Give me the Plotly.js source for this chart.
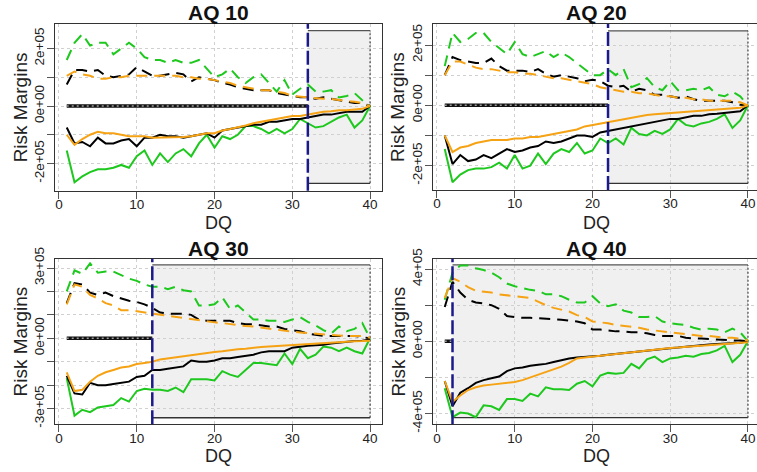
<!DOCTYPE html>
<html>
<head>
<meta charset="utf-8">
<script src="https://cdn.plot.ly/plotly-3.0.1.min.js"></script>
<style>html,body{margin:0;padding:0;background:#fff;}#chart{width:757px;height:472px;}</style>
</head>
<body>
<div id="chart"></div>
<script>
// ---------------- DATA ----------------
const DQ = [1,2,3,4,5,6,7,8,9,10,11,12,13,14,15,16,17,18,19,20,21,22,23,24,25,26,27,28,29,30,31,32,33,34,35,36,37,38,39,40];
const PANEL_TITLES = ['AQ 10','AQ 20','AQ 30','AQ 40'];
const X_TICKS = [0,10,20,30,40];
const X_TICK_LABELS = ['0','10','20','30','40'];
const CUTOFF = [32,22,12,2];
const SHADE_LOW = [-2.69e5,-2.59e5,-3.39e5,-4.23e5];
const SHADE_HIGH = [2.62e5,2.47e5,3.13e5,4.23e5];
const Y_TICKS = [
  [-2e5,-1e5,0,1e5,2e5],
  [-2e5,-1e5,0,1e5,2e5],
  [-3e5,-2e5,-1e5,0,1e5,2e5,3e5],
  [-4e5,-2e5,0,2e5,4e5]
];
const Y_TICK_LABELS = [
  ['-2e+05','','0e+00','','2e+05'],
  ['-2e+05','','0e+00','','2e+05'],
  ['-3e+05','','','0e+00','','','3e+05'],
  ['-4e+05','','0e+00','','4e+05']
];

// AQ 10
const aq10_green_up  = [1.6e5,2.2e5,2.5e5,2.1e5,2.2e5,2.2e5,1.8e5,2.0e5,2.2e5,2.0e5,1.7e5,1.6e5,1.6e5,1.5e5,1.6e5,1.5e5,1.5e5,1.6e5,1.3e5,1.0e5,1.1e5,1.3e5,1.0e5,0.8e5,1.0e5,1.1e5,0.8e5,0.5e5,0.9e5,0.4e5,0.6e5,0.75e5,0.5e5,0.5e5,0.55e5,0.3e5,0.35e5,0.45e5,0.2e5,0];
const aq10_black_up  = [0.75e5,1.25e5,1.25e5,1.2e5,1.25e5,1.05e5,1.0e5,1.05e5,1.1e5,1.35e5,1.2e5,1.05e5,1.05e5,1.1e5,1.15e5,1.1e5,0.85e5,1.0e5,0.95e5,0.9e5,0.8e5,0.75e5,0.65e5,0.6e5,0.55e5,0.55e5,0.55e5,0.45e5,0.4e5,0.35e5,0.3e5,0.3e5,0.25e5,0.3e5,0.25e5,0.2e5,0.15e5,0.1e5,0.1e5,0];
const aq10_orange_up = [1.05e5,1.2e5,1.1e5,1.05e5,0.95e5,0.95e5,1.0e5,1.0e5,1.05e5,1.05e5,1.05e5,1.05e5,1.05e5,1.05e5,1.05e5,1.0e5,1.0e5,0.95e5,0.95e5,0.9e5,0.85e5,0.8e5,0.7e5,0.65e5,0.6e5,0.55e5,0.55e5,0.5e5,0.45e5,0.35e5,0.32e5,0.3e5,0.28e5,0.25e5,0.25e5,0.2e5,0.17e5,0.15e5,0.1e5,0];
const aq10_black_lo  = [-0.75e5,-1.3e5,-1.25e5,-1.4e5,-1.1e5,-1.3e5,-1.3e5,-1.2e5,-1.15e5,-1.4e5,-1.1e5,-1.1e5,-1.0e5,-1.05e5,-1.05e5,-1.1e5,-1.05e5,-1.0e5,-0.95e5,-1.1e5,-0.85e5,-0.8e5,-0.75e5,-0.7e5,-0.65e5,-0.65e5,-0.55e5,-0.55e5,-0.5e5,-0.45e5,-0.45e5,-0.4e5,-0.35e5,-0.3e5,-0.3e5,-0.25e5,-0.2e5,-0.2e5,-0.2e5,0];
const aq10_orange_lo = [-1.0e5,-1.35e5,-1.15e5,-1.0e5,-0.9e5,-0.95e5,-0.95e5,-1.0e5,-1.05e5,-1.05e5,-1.05e5,-1.1e5,-1.1e5,-1.1e5,-1.1e5,-1.08e5,-1.05e5,-1.0e5,-0.95e5,-0.95e5,-0.85e5,-0.8e5,-0.75e5,-0.68e5,-0.6e5,-0.55e5,-0.5e5,-0.45e5,-0.4e5,-0.35e5,-0.35e5,-0.3e5,-0.25e5,-0.2e5,-0.18e5,-0.15e5,-0.15e5,-0.12e5,-0.1e5,0];
const aq10_green_lo  = [-1.55e5,-2.65e5,-2.45e5,-2.3e5,-2.2e5,-2.2e5,-2.15e5,-2.05e5,-2.15e5,-1.75e5,-1.55e5,-2.05e5,-1.65e5,-1.95e5,-1.65e5,-1.5e5,-1.75e5,-1.3e5,-1.0e5,-1.45e5,-1.05e5,-1.15e5,-1.0e5,-0.7e5,-0.7e5,-0.8e5,-0.95e5,-0.8e5,-0.95e5,-0.8e5,-0.45e5,-0.6e5,-0.75e5,-0.7e5,-0.55e5,-0.4e5,-0.3e5,-0.75e5,-0.5e5,0];

// AQ 20
const aq20_green_up  = [1.3e5,2.4e5,2.1e5,2.2e5,2.4e5,2.4e5,2.1e5,1.9e5,1.7e5,2.1e5,1.7e5,1.6e5,1.7e5,1.8e5,1.6e5,1.75e5,1.6e5,1.4e5,1.2e5,1.0e5,1.0e5,1.2e5,1.0e5,1.2e5,0.6e5,0.7e5,0.9e5,0.6e5,0.5e5,0.8e5,0.5e5,0.5e5,0.55e5,0.5e5,0.6e5,0.35e5,0.3e5,0.45e5,0.3e5,0];
const aq20_black_up  = [1.0e5,1.6e5,1.5e5,1.45e5,1.4e5,1.4e5,1.55e5,1.3e5,1.15e5,1.15e5,1.15e5,1.1e5,1.2e5,1.05e5,0.95e5,1.0e5,0.95e5,0.9e5,0.8e5,0.85e5,0.8e5,0.65e5,0.6e5,0.65e5,0.45e5,0.55e5,0.5e5,0.35e5,0.35e5,0.3e5,0.25e5,0.3e5,0.2e5,0.15e5,0.15e5,0.15e5,0.15e5,0.1e5,0.02e5,0];
const aq20_orange_up = [1.0e5,1.45e5,1.45e5,1.35e5,1.25e5,1.2e5,1.2e5,1.15e5,1.1e5,1.1e5,1.05e5,1.05e5,1.0e5,0.95e5,0.9e5,0.9e5,0.85e5,0.8e5,0.75e5,0.7e5,0.6e5,0.55e5,0.5e5,0.45e5,0.45e5,0.4e5,0.4e5,0.35e5,0.3e5,0.3e5,0.25e5,0.25e5,0.2e5,0.2e5,0.15e5,0.15e5,0.15e5,0.15e5,0.1e5,0];
const aq20_black_lo  = [-1.0e5,-1.95e5,-1.65e5,-1.85e5,-1.8e5,-1.65e5,-1.75e5,-1.6e5,-1.45e5,-1.55e5,-1.5e5,-1.4e5,-1.35e5,-1.2e5,-1.25e5,-1.2e5,-1.1e5,-1.0e5,-1.0e5,-1.05e5,-0.9e5,-0.85e5,-0.8e5,-0.75e5,-0.7e5,-0.65e5,-0.6e5,-0.55e5,-0.5e5,-0.45e5,-0.45e5,-0.4e5,-0.35e5,-0.35e5,-0.3e5,-0.28e5,-0.25e5,-0.22e5,-0.2e5,0];
const aq20_orange_lo = [-1.0e5,-1.55e5,-1.4e5,-1.35e5,-1.25e5,-1.2e5,-1.15e5,-1.15e5,-1.15e5,-1.1e5,-1.1e5,-1.05e5,-1.05e5,-1.0e5,-0.95e5,-0.9e5,-0.85e5,-0.8e5,-0.7e5,-0.65e5,-0.6e5,-0.55e5,-0.5e5,-0.45e5,-0.4e5,-0.35e5,-0.32e5,-0.3e5,-0.28e5,-0.25e5,-0.22e5,-0.2e5,-0.18e5,-0.17e5,-0.15e5,-0.14e5,-0.12e5,-0.1e5,-0.08e5,0];
const aq20_green_lo  = [-1.45e5,-2.55e5,-2.3e5,-2.15e5,-2.1e5,-2.1e5,-2.05e5,-1.9e5,-2.1e5,-1.65e5,-2.1e5,-2.0e5,-1.6e5,-1.95e5,-1.6e5,-1.45e5,-1.55e5,-1.25e5,-1.6e5,-1.5e5,-1.1e5,-1.25e5,-1.1e5,-1.3e5,-0.75e5,-0.95e5,-1.0e5,-0.85e5,-0.95e5,-0.8e5,-0.45e5,-0.65e5,-0.7e5,-0.6e5,-0.55e5,-0.45e5,-0.3e5,-0.75e5,-0.5e5,0];

// AQ 30
const aq30_green_up  = [2.0e5,2.9e5,2.75e5,3.2e5,2.8e5,2.85e5,2.85e5,2.7e5,2.55e5,2.45e5,2.3e5,2.2e5,2.2e5,2.1e5,2.2e5,2.05e5,2.0e5,1.4e5,1.4e5,1.45e5,1.75e5,1.25e5,1.4e5,1.1e5,0.8e5,0.8e5,0.75e5,0.75e5,0.7e5,0.8e5,0.9e5,0.7e5,0.55e5,0.35e5,0.2e5,0.5e5,0.3e5,0.4e5,0.65e5,0];
const aq30_black_up  = [1.5e5,2.35e5,2.3e5,1.95e5,1.85e5,1.95e5,1.8e5,1.7e5,1.6e5,1.55e5,1.45e5,1.3e5,1.1e5,1.05e5,1.05e5,1.05e5,1.0e5,0.8e5,0.75e5,0.75e5,0.75e5,0.75e5,0.65e5,0.6e5,0.6e5,0.55e5,0.5e5,0.5e5,0.4e5,0.35e5,0.3e5,0.2e5,0.15e5,0.1e5,0.1e5,0.1e5,0.1e5,0.1e5,0.05e5,0];
const aq30_orange_up = [1.45e5,2.3e5,2.2e5,1.85e5,1.7e5,1.5e5,1.4e5,1.2e5,1.2e5,1.15e5,1.1e5,1.05e5,1.0e5,0.95e5,0.9e5,0.85e5,0.8e5,0.75e5,0.7e5,0.68e5,0.65e5,0.6e5,0.55e5,0.52e5,0.5e5,0.45e5,0.4e5,0.35e5,0.3e5,0.28e5,0.25e5,0.22e5,0.2e5,0.15e5,0.12e5,0.12e5,0.1e5,0.1e5,0.1e5,0.02e5];
const aq30_black_lo  = [-1.6e5,-2.35e5,-2.4e5,-1.9e5,-2.0e5,-2.0e5,-1.95e5,-1.9e5,-1.85e5,-1.65e5,-1.6e5,-1.35e5,-1.35e5,-1.3e5,-1.25e5,-1.2e5,-0.95e5,-1.0e5,-1.0e5,-0.95e5,-0.85e5,-0.85e5,-0.8e5,-0.75e5,-0.7e5,-0.6e5,-0.55e5,-0.55e5,-0.55e5,-0.4e5,-0.35e5,-0.32e5,-0.3e5,-0.28e5,-0.22e5,-0.18e5,-0.15e5,-0.12e5,-0.1e5,-0.05e5];
const aq30_orange_lo = [-1.45e5,-2.25e5,-2.2e5,-1.85e5,-1.6e5,-1.45e5,-1.35e5,-1.25e5,-1.2e5,-1.1e5,-1.05e5,-1.0e5,-0.9e5,-0.85e5,-0.8e5,-0.75e5,-0.7e5,-0.65e5,-0.6e5,-0.58e5,-0.55e5,-0.5e5,-0.47e5,-0.45e5,-0.4e5,-0.37e5,-0.35e5,-0.33e5,-0.3e5,-0.28e5,-0.25e5,-0.22e5,-0.2e5,-0.18e5,-0.16e5,-0.15e5,-0.14e5,-0.13e5,-0.12e5,-0.1e5];
const aq30_green_lo  = [-1.7e5,-3.3e5,-3.05e5,-3.15e5,-2.95e5,-2.9e5,-2.85e5,-2.55e5,-2.7e5,-2.25e5,-2.15e5,-2.2e5,-2.2e5,-2.25e5,-2.1e5,-2.3e5,-1.75e5,-1.75e5,-1.75e5,-1.8e5,-1.4e5,-1.55e5,-1.65e5,-1.35e5,-1.05e5,-1.05e5,-1.1e5,-1.15e5,-0.65e5,-1.1e5,-0.45e5,-0.85e5,-0.7e5,-0.35e5,-0.4e5,-0.55e5,-0.4e5,-0.55e5,-0.65e5,0];

// AQ 40
const aq40_green_up  = [2.3e5,3.8e5,4.2e5,4.2e5,4.05e5,3.95e5,3.8e5,3.55e5,3.2e5,3.05e5,2.95e5,2.85e5,2.8e5,2.6e5,2.6e5,2.5e5,2.3e5,2.15e5,2.15e5,2.5e5,2.1e5,1.95e5,2.05e5,1.7e5,1.6e5,1.35e5,1.35e5,1.4e5,1.1e5,1.0e5,0.95e5,0.9e5,0.75e5,0.65e5,0.7e5,0.65e5,0.5e5,0.7e5,0.5e5,0];
const aq40_black_up  = [1.9e5,3.3e5,2.7e5,2.3e5,2.15e5,2.1e5,2.0e5,1.8e5,1.4e5,1.35e5,1.3e5,1.3e5,1.28e5,1.25e5,1.2e5,1.2e5,1.15e5,1.1e5,1.0e5,0.65e5,0.65e5,0.6e5,0.55e5,0.55e5,0.5e5,0.5e5,0.45e5,0.35e5,0.3e5,0.3e5,0.3e5,0.2e5,0.15e5,0.15e5,0.12e5,0.1e5,0.08e5,0.05e5,0.05e5,0];
const aq40_orange_up = [2.4e5,3.5e5,3.3e5,3.0e5,2.8e5,2.75e5,2.7e5,2.6e5,2.55e5,2.5e5,2.45e5,2.4e5,2.2e5,2.0e5,1.85e5,1.75e5,1.65e5,1.45e5,1.35e5,1.1e5,1.05e5,1.0e5,0.9e5,0.85e5,0.8e5,0.75e5,0.65e5,0.6e5,0.55e5,0.5e5,0.45e5,0.4e5,0.35e5,0.3e5,0.3e5,0.25e5,0.2e5,0.2e5,0.15e5,0.05e5];
const aq40_black_lo  = [-2.2e5,-3.6e5,-2.85e5,-2.6e5,-2.3e5,-2.15e5,-2.05e5,-1.95e5,-1.65e5,-1.5e5,-1.45e5,-1.35e5,-1.3e5,-1.25e5,-1.15e5,-1.05e5,-0.95e5,-0.9e5,-0.88e5,-0.85e5,-0.8e5,-0.75e5,-0.7e5,-0.65e5,-0.6e5,-0.55e5,-0.5e5,-0.45e5,-0.4e5,-0.38e5,-0.35e5,-0.3e5,-0.25e5,-0.2e5,-0.18e5,-0.15e5,-0.12e5,-0.1e5,-0.08e5,0];
const aq40_orange_lo = [-2.2e5,-3.35e5,-3.0e5,-2.7e5,-2.55e5,-2.45e5,-2.4e5,-2.35e5,-2.3e5,-2.25e5,-2.15e5,-2.0e5,-1.85e5,-1.7e5,-1.55e5,-1.4e5,-1.2e5,-0.95e5,-0.9e5,-0.85e5,-0.8e5,-0.75e5,-0.7e5,-0.65e5,-0.6e5,-0.55e5,-0.5e5,-0.45e5,-0.4e5,-0.37e5,-0.35e5,-0.3e5,-0.27e5,-0.25e5,-0.22e5,-0.2e5,-0.17e5,-0.15e5,-0.12e5,-0.05e5];
const aq40_green_lo  = [-2.6e5,-4.2e5,-3.95e5,-4.0e5,-4.2e5,-3.55e5,-3.6e5,-3.8e5,-3.2e5,-3.2e5,-3.3e5,-2.9e5,-3.05e5,-2.55e5,-2.65e5,-2.65e5,-2.7e5,-2.35e5,-2.2e5,-2.5e5,-1.9e5,-1.75e5,-1.8e5,-1.75e5,-1.25e5,-1.5e5,-1.0e5,-0.85e5,-1.15e5,-0.95e5,-0.9e5,-0.8e5,-0.85e5,-0.7e5,-0.65e5,-0.5e5,-0.25e5,-1.15e5,-0.75e5,0];

const SERIES = [
  [aq10_green_up, aq10_green_lo, aq10_black_up, aq10_black_lo, aq10_orange_up, aq10_orange_lo],
  [aq20_green_up, aq20_green_lo, aq20_black_up, aq20_black_lo, aq20_orange_up, aq20_orange_lo],
  [aq30_green_up, aq30_green_lo, aq30_black_up, aq30_black_lo, aq30_orange_up, aq30_orange_lo],
  [aq40_green_up, aq40_green_lo, aq40_black_up, aq40_black_lo, aq40_orange_up, aq40_orange_lo]
];

// ---------------- LAYOUT / STYLE ----------------
const W = 757, H = 472;
const FONT = 'Liberation Sans, Arial, sans-serif';
const GREEN = '#1ec81e', BLACK = '#000000', ORANGE = '#f5a314', NAVY = '#1a1a8a';
const SERIES_STYLE = [
  {color: GREEN, dash: '11px,7px'}, {color: GREEN, dash: 'solid'},
  {color: BLACK, dash: '11px,7px'}, {color: BLACK, dash: 'solid'},
  {color: ORANGE, dash: '11px,7px'}, {color: ORANGE, dash: 'solid'}
];
// pixel boxes of the four plot regions
const BOX = [
  {x0: 54.6, x1: 382.2, y0: 24, y1: 190.7, xr: [-0.56, 41.56], yr: [-2.946e5, 2.852e5], mirrorY: true},
  {x0: 432.6, x1: 757, y0: 24, y1: 190, xr: [-0.56, 41.16], yr: [-2.809e5, 2.697e5], mirrorY: false},
  {x0: 54.6, x1: 382.2, y0: 258.7, y1: 424.3, xr: [-0.56, 41.56], yr: [-3.670e5, 3.397e5], mirrorY: true},
  {x0: 432.6, x1: 757, y0: 258.7, y1: 424.3, xr: [-0.56, 41.16], yr: [-4.598e5, 4.576e5], mirrorY: false}
];
const FULLBOX_X = [[54.6, 382.2], [432.6, 760.2], [54.6, 382.2], [432.6, 760.2]];
const YTITLE_X = [20, 398, 20, 398];
const TITLE_Y = [12.5, 12.5, 248, 248];
const XTITLE_Y = [223, 223, 456, 456];

const traces = [];
const shapes = [];
const annotations = [];
const layout = {
  width: W, height: H,
  margin: {l: 0, r: 0, t: 0, b: 0, pad: 0},
  paper_bgcolor: '#ffffff', plot_bgcolor: '#ffffff',
  showlegend: false,
  font: {family: FONT, color: '#222'},
  shapes: shapes, annotations: annotations
};

for (let p = 0; p < 4; p++) {
  const sfx = p === 0 ? '' : String(p + 1);
  const xa = 'x' + sfx, ya = 'y' + sfx;
  const b = BOX[p];
  layout['xaxis' + sfx] = {
    domain: [b.x0 / W, Math.min(b.x1 / W, 1)],
    range: b.xr, anchor: ya,
    tickmode: 'array', tickvals: X_TICKS, ticktext: X_TICK_LABELS,
    ticks: 'outside', ticklen: 7, tickcolor: '#555', tickwidth: 1,
    ticklabelstandoff: -6,
    tickfont: {family: FONT, size: 13.5, color: '#222'},
    showline: true, mirror: true, linecolor: '#333', linewidth: 1,
    showgrid: true, gridcolor: '#d0d0d0', griddash: 'dot', gridwidth: 1,
    zeroline: false, fixedrange: true
  };
  layout['yaxis' + sfx] = {
    domain: [1 - b.y1 / H, 1 - b.y0 / H],
    range: b.yr, anchor: xa,
    tickmode: 'array', tickvals: Y_TICKS[p], ticktext: Y_TICK_LABELS[p],
    tickangle: -90,
    ticks: 'outside', ticklen: 7, tickcolor: '#555', tickwidth: 1,
    ticklabelstandoff: -3,
    tickfont: {family: FONT, size: 13.5, color: '#222'},
    showline: true, mirror: b.mirrorY, linecolor: '#333', linewidth: 1,
    showgrid: true, gridcolor: '#d0d0d0', griddash: 'dot', gridwidth: 1,
    zeroline: false, fixedrange: true
  };

  // shaded region after the cutoff
  shapes.push({type: 'rect', xref: xa, yref: ya, x0: CUTOFF[p], x1: DQ[DQ.length - 1],
    y0: SHADE_LOW[p], y1: SHADE_HIGH[p], fillcolor: '#f0f0f0', line: {width: 0}, layer: 'below'});
  shapes.push({type: 'line', xref: xa, yref: ya, x0: CUTOFF[p], x1: DQ[DQ.length - 1],
    y0: SHADE_HIGH[p], y1: SHADE_HIGH[p], line: {color: '#555', width: 1.3}, layer: 'between'});
  shapes.push({type: 'line', xref: xa, yref: ya, x0: CUTOFF[p], x1: DQ[DQ.length - 1],
    y0: SHADE_LOW[p], y1: SHADE_LOW[p], line: {color: '#333', width: 1.3}, layer: 'between'});
  shapes.push({type: 'line', xref: xa, yref: ya, x0: DQ[DQ.length - 1], x1: DQ[DQ.length - 1],
    y0: SHADE_LOW[p], y1: SHADE_HIGH[p], line: {color: '#444', width: 1.2, dash: '2px,2px'}, layer: 'between'});

  // zero reference line up to the cutoff
  traces.push({x: [DQ[0], CUTOFF[p]], y: [0, 0], xaxis: xa, yaxis: ya, mode: 'lines',
    line: {color: '#111', width: 3.5}, hoverinfo: 'skip'});
  traces.push({x: [DQ[0], CUTOFF[p]], y: [0, 0], xaxis: xa, yaxis: ya, mode: 'lines',
    line: {color: '#9a9a9a', width: 1.4, dash: '2px,3px'}, hoverinfo: 'skip'});

  SERIES[p].forEach((ys, i) => {
    traces.push({x: DQ, y: ys, xaxis: xa, yaxis: ya, mode: 'lines',
      line: {color: SERIES_STYLE[i].color, width: 2, dash: SERIES_STYLE[i].dash},
      hoverinfo: 'skip'});
  });

  // vertical cutoff line
  shapes.push({type: 'line', xref: xa, yref: ya + ' domain', x0: CUTOFF[p], x1: CUTOFF[p],
    y0: 0, y1: 1, line: {color: NAVY, width: 2.5, dash: '14px,4px'}, layer: 'above'});

  // texts
  const cx = (FULLBOX_X[p][0] + FULLBOX_X[p][1]) / 2 / W;
  annotations.push({text: '<b>' + PANEL_TITLES[p] + '</b>', xref: 'paper', yref: 'paper',
    x: cx, y: 1 - TITLE_Y[p] / H, xanchor: 'center', yanchor: 'middle', showarrow: false,
    font: {family: FONT, size: 21, color: '#111'}});
  annotations.push({text: 'DQ', xref: 'paper', yref: 'paper',
    x: cx, y: 1 - XTITLE_Y[p] / H, xanchor: 'center', yanchor: 'middle', showarrow: false,
    font: {family: FONT, size: 18, color: '#222'}});
  annotations.push({text: 'Risk Margins', xref: 'paper', yref: 'paper', textangle: -90,
    x: YTITLE_X[p] / W, y: 1 - ((b.y0 + b.y1) / 2) / H, xanchor: 'center', yanchor: 'middle',
    showarrow: false, font: {family: FONT, size: 19, color: '#222'}});
}

Plotly.newPlot('chart', traces, layout, {staticPlot: true, displayModeBar: false});
</script>
</body>
</html>
